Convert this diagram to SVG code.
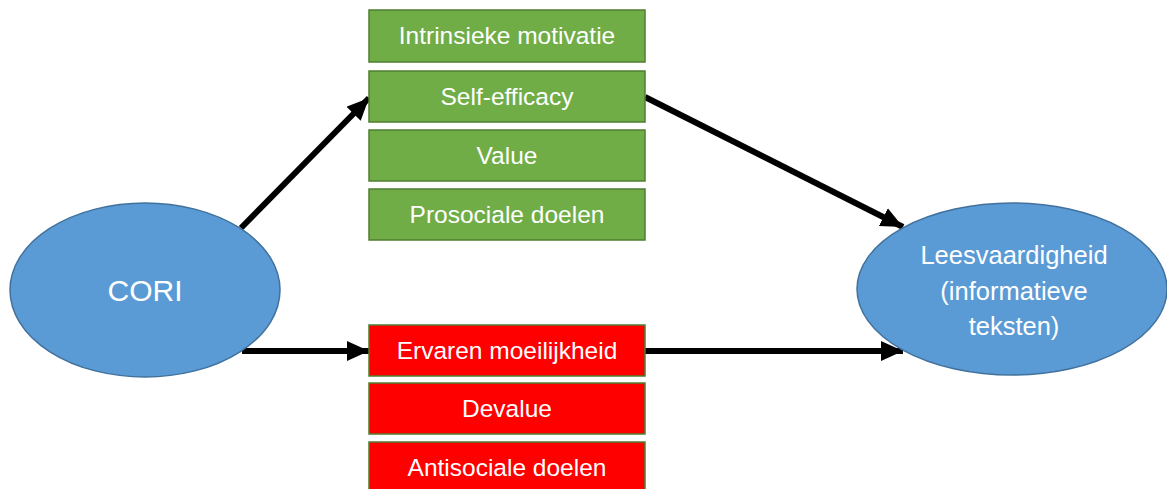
<svg xmlns="http://www.w3.org/2000/svg" width="1167" height="489" viewBox="0 0 1167 489">
<style>
.g{fill:#70AD47;stroke:#507E32;stroke-width:1.5}
.r{fill:#FF0000;stroke:#507E32;stroke-width:1.5}
.e{fill:#5B9BD5;stroke:#41719C;stroke-width:1.5}
text{font-family:"Liberation Sans",Arial,sans-serif;fill:#FFFFFF;text-anchor:middle}
.t{font-size:24.5px}
.l{font-size:25.5px}
.c{stroke:#000;stroke-width:6;fill:none;marker-end:url(#ah)}
</style>
<defs>
<marker id="ah" markerUnits="userSpaceOnUse" markerWidth="24" markerHeight="20" refX="22" refY="10" orient="auto">
<path d="M0,0 L22,10 L0,20 Z" fill="#000"/>
</marker>
</defs>
<rect width="1167" height="489" fill="#FFFFFF"/>
<g id="connectors">
<line class="c" x1="241" y1="228" x2="369" y2="98"/>
<line class="c" x1="645" y1="97" x2="903" y2="227"/>
<line class="c" x1="242" y1="351" x2="369" y2="351"/>
<line class="c" x1="645" y1="351" x2="903" y2="351"/>
</g>
<g id="cori"><ellipse class="e" cx="145" cy="290" rx="135" ry="87"/><text x="145" y="301" style="font-size:30px">CORI</text></g>
<g id="lees"><ellipse class="e" cx="1012" cy="289" rx="155" ry="86"/>
<text class="l" x="1014" y="264">Leesvaardigheid</text>
<text class="l" x="1014" y="300">(informatieve</text>
<text class="l" x="1014" y="335">teksten)</text></g>
<g id="intrinsiek"><rect class="g" x="369" y="10" width="276" height="52"/><text class="t" x="507" y="44">Intrinsieke motivatie</text></g>
<g id="selfefficacy"><rect class="g" x="369" y="71" width="276" height="51"/><text class="t" x="507" y="105">Self-efficacy</text></g>
<g id="value"><rect class="g" x="369" y="130" width="276" height="51"/><text class="t" x="507" y="164">Value</text></g>
<g id="prosociaal"><rect class="g" x="369" y="189" width="276" height="51"/><text class="t" x="507" y="223">Prosociale doelen</text></g>
<g id="ervaren"><rect class="r" x="369" y="325" width="276" height="51"/><text class="t" x="507" y="359">Ervaren moeilijkheid</text></g>
<g id="devalue"><rect class="r" x="369" y="383" width="276" height="51"/><text class="t" x="507" y="417">Devalue</text></g>
<g id="antisociaal"><rect class="r" x="369" y="442" width="276" height="52"/><text class="t" x="507" y="476">Antisociale doelen</text></g>
</svg>
